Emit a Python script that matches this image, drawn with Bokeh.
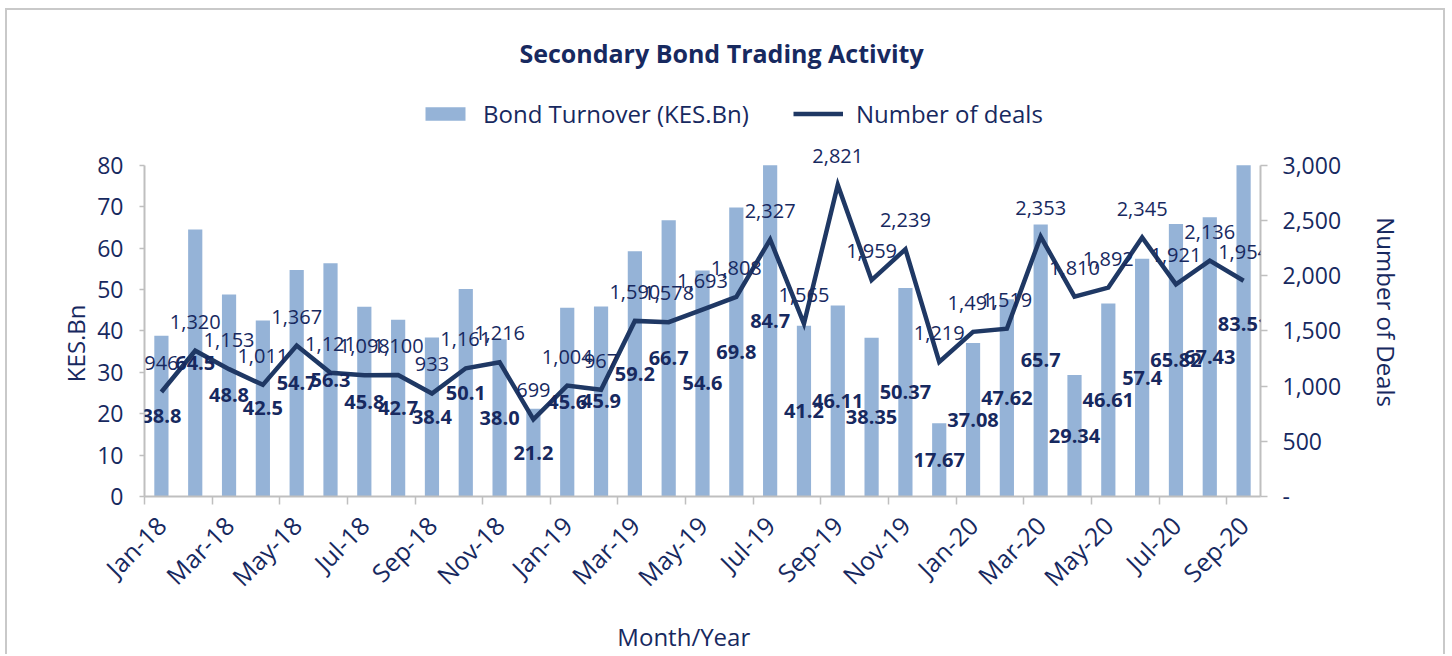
import math
from bokeh.plotting import figure
from bokeh.models import (Range1d, LinearAxis, FixedTicker, ColumnDataSource, Legend,
                          LegendItem, Label, LabelSet, NumeralTickFormatter)
from bokeh.core.properties import value
from bokeh.embed import file_html
from bokeh.resources import INLINE

months = ["Jan-18", "Feb-18", "Mar-18", "Apr-18", "May-18", "Jun-18", "Jul-18", "Aug-18",
          "Sep-18", "Oct-18", "Nov-18", "Dec-18",
          "Jan-19", "Feb-19", "Mar-19", "Apr-19", "May-19", "Jun-19", "Jul-19", "Aug-19",
          "Sep-19", "Oct-19", "Nov-19", "Dec-19",
          "Jan-20", "Feb-20", "Mar-20", "Apr-20", "May-20", "Jun-20", "Jul-20", "Aug-20",
          "Sep-20"]

turnover_text = ["38.8", "64.5", "48.8", "42.5", "54.7", "56.3", "45.8", "42.7",
                 "38.4", "50.1", "38.0", "21.2",
                 "45.6", "45.9", "59.2", "66.7", "54.6", "69.8", "84.7", "41.2",
                 "46.11", "38.35", "50.37", "17.67",
                 "37.08", "47.62", "65.7", "29.34", "46.61", "57.4", "65.82", "67.43",
                 "83.51"]

deals = [946, 1320, 1153, 1011, 1367, 1121, 1098, 1100, 933, 1161, 1216, 699,
         1004, 967, 1590, 1578, 1693, 1808, 2327, 1565, 2821, 1959, 2239, 1219,
         1491, 1519, 2353, 1810, 1892, 2345, 1921, 2136, 1954]

left_ticks = list(range(0, 81, 10))
right_ticks = list(range(0, 3001, 500))

turnover = [float(s) for s in turnover_text]
Y_MAX = left_ticks[-1]
R_MAX = right_ticks[-1]

TEXT = "#17295f"
LINE = "#1f3864"
BAR = "#95b3d7"
AXIS = "#bfbfbf"
FONT = "Open Sans"
NB = "\u00a0"

# layout in page pixels (figure content starts at x=7, y=10)
FRAME_TOP, AXIS_TOP, FRAME_BOTTOM, FRAME_LEFT = 15, 165, 497, 144
px_per_unit = (FRAME_BOTTOM - AXIS_TOP) / Y_MAX
ext = (FRAME_BOTTOM - FRAME_TOP) / (FRAME_BOTTOM - AXIS_TOP)
px_per_cat = (1260 - FRAME_LEFT) / len(months)

src = ColumnDataSource(dict(
    x=list(range(len(months))),
    bar_top=[min(v, Y_MAX) for v in turnover],   # the value axis stops at 80
    half=[v / 2 for v in turnover],
    turnover_text=turnover_text,
    deals=deals,
    deals_text=[f"{d:,}" for d in deals],
))

p = figure(width=1440, height=646, output_backend="svg", toolbar_location=None,
           title=None,
           x_range=Range1d(-0.5, len(months) - 0.5), y_range=Range1d(0, Y_MAX * ext),
           min_border_left=137, min_border_right=187, min_border_top=FRAME_TOP - 10,
           min_border_bottom=159)
p.styles = {"margin": "8px 0px 0px 5px",
            "border-top": "2px solid #c9c9c9", "border-left": "2px solid #c9c9c9",
            "border-right": "2px solid #c9c9c9"}
p.outline_line_color = None
p.xgrid.visible = False
p.ygrid.visible = False
p.background_fill_color = "white"
p.border_fill_color = "white"

p.extra_y_ranges = {"deals": Range1d(0, R_MAX * ext)}

bars = p.vbar(x="x", top="bar_top", width=0.42, source=src, fill_color=BAR, line_color=None)
line = p.line(x="x", y="deals", source=src, y_range_name="deals", line_color=LINE,
              line_width=4.5, line_join="miter")

# x axis: labels every second month, tick marks at category boundaries
xa = p.xaxis[0]
lab_idx = list(range(0, len(months), 2))
xa.ticker = FixedTicker(ticks=lab_idx, minor_ticks=[i - 0.5 for i in lab_idx])
xa.major_label_overrides = {i: months[i] for i in lab_idx}
xa.major_tick_out = 0
xa.major_tick_in = 0
xa.minor_tick_out = 8
xa.minor_tick_in = 0
xa.minor_tick_line_color = AXIS
xa.minor_tick_line_width = 1.5
xa.axis_line_color = AXIS
xa.axis_line_width = 2
xa.major_label_orientation = math.pi / 4
xa.major_label_standoff = 16
xa.major_label_text_font = FONT
xa.major_label_text_font_size = "25px"
xa.major_label_text_color = TEXT
xa.axis_label = "Month/Year" + NB * 6
xa.axis_label_text_font = FONT
xa.axis_label_text_font_size = "24px"
xa.axis_label_text_font_style = "normal"
xa.axis_label_text_color = TEXT
xa.axis_label_standoff = 12

# left axis
ya = p.yaxis[0]
ya.ticker = FixedTicker(ticks=left_ticks)
ya.bounds = (0, Y_MAX)
ya.major_tick_out = 5
ya.major_tick_in = 0
ya.minor_tick_line_color = None
ya.major_tick_line_color = AXIS
ya.major_tick_line_width = 1.5
ya.axis_line_color = AXIS
ya.axis_line_width = 2
ya.major_label_standoff = 16
ya.major_label_text_font = FONT
ya.major_label_text_font_size = "23px"
ya.major_label_text_color = TEXT
# trailing no-break spaces move the centred title down alongside the 0-80 scale
ya.axis_label = "KES.Bn" + NB * 28
ya.axis_label_text_font = FONT
ya.axis_label_text_font_size = "24px"
ya.axis_label_text_font_style = "normal"
ya.axis_label_text_color = TEXT
ya.axis_label_standoff = 2

# right axis
ra = LinearAxis(y_range_name="deals", ticker=FixedTicker(ticks=right_ticks),
                formatter=NumeralTickFormatter(format="0,0"))
ra.bounds = (0, R_MAX)
ra.major_label_overrides = {0: "-"}
ra.major_tick_out = 7
ra.major_tick_in = 0
ra.minor_tick_line_color = None
ra.major_tick_line_color = AXIS
ra.major_tick_line_width = 1.5
ra.axis_line_color = AXIS
ra.axis_line_width = 2
ra.major_label_standoff = 15
ra.major_label_text_font = FONT
ra.major_label_text_font_size = "23px"
ra.major_label_text_color = TEXT
ra.axis_label = NB * 18 + "Number of Deals"
ra.axis_label_text_font = FONT
ra.axis_label_text_font_size = "24px"
ra.axis_label_text_font_style = "normal"
ra.axis_label_text_color = TEXT
ra.axis_label_standoff = 26
p.add_layout(ra, "right")

# data labels
p.add_layout(LabelSet(x="x", y="half", text="turnover_text", source=src,
                      text_align="center", text_baseline="middle",
                      text_font=value(FONT), text_font_size="20px",
                      text_font_style="bold", text_color=TEXT))
p.add_layout(LabelSet(x="x", y="deals", text="deals_text", source=src, y_range_name="deals",
                      y_offset=29, text_align="center", text_baseline="middle",
                      text_font=value(FONT), text_font_size="20px", text_color=TEXT))

# title (inside the tall frame, above the value area)
p.add_layout(Label(x=(721 - FRAME_LEFT) / px_per_cat - 0.5,
                   y=(FRAME_BOTTOM - 53) / px_per_unit,
                   text="Secondary Bond Trading Activity",
                   text_align="center", text_baseline="middle", text_font=FONT,
                   text_font_size="25px", text_font_style="bold", text_color=TEXT))

# legend
legend = Legend(items=[LegendItem(label="Bond Turnover (KES.Bn)", renderers=[bars]),
                       LegendItem(label="Number of deals", renderers=[line])],
                orientation="horizontal", location=(276, 366), padding=0, margin=0,
                border_line_color=None, background_fill_alpha=0,
                glyph_width=50, glyph_height=17, label_standoff=13, spacing=44,
                label_text_font=FONT, label_text_font_size="24px", label_text_color=TEXT)
p.add_layout(legend)

open("out.html", "w").write(file_html(p, INLINE))
